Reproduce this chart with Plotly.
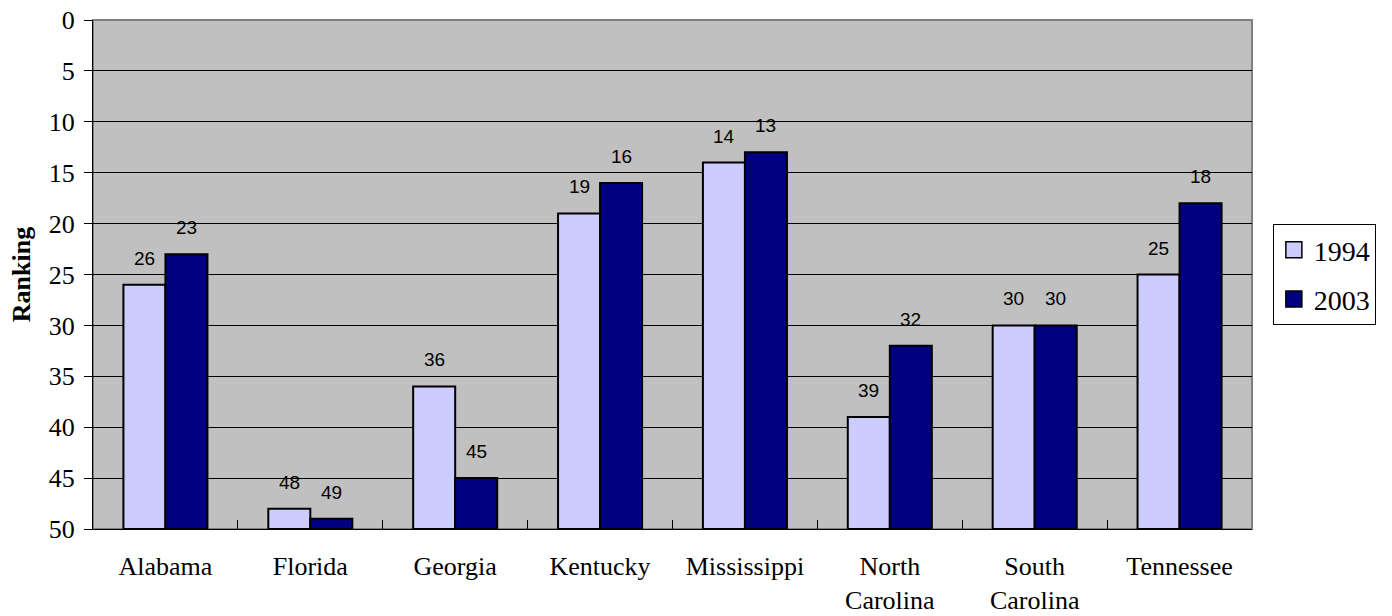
import plotly.graph_objects as go

states = ["Alabama", "Florida", "Georgia", "Kentucky", "Mississippi",
          "North<br>Carolina", "South<br>Carolina", "Tennessee"]
rank_1994 = [26, 48, 36, 19, 14, 39, 30, 25]
rank_2003 = [23, 49, 45, 16, 13, 32, 30, 18]
y_ticks = [0, 5, 10, 15, 20, 25, 30, 35, 40, 45, 50]
BASE = 50

SERIF = "Liberation Serif, Times New Roman, serif"
SANS = "Liberation Sans, Arial, sans-serif"

series = [("1994", rank_1994, "#CCCCFF", -1), ("2003", rank_2003, "#000080", 1)]

fig = go.Figure()
for name, vals, color, side in series:
    fig.add_trace(go.Bar(
        name=name, x=states, y=[v - BASE for v in vals], base=BASE,
        marker=dict(color=color, line=dict(color="black", width=2)),
        showlegend=False,
    ))
    # legend proxy with a bigger square symbol
    fig.add_trace(go.Scatter(
        name=name, x=[None], y=[None], mode="markers",
        marker=dict(symbol="square", size=20, color=color, line=dict(color="black", width=1.5)),
        legendgroup=name,
    ))

# data labels above the bar tops
for name, vals, color, side in series:
    for s, v in zip(states, vals):
        fig.add_annotation(x=s, y=v, xref="x", yref="y", text=str(v), showarrow=False,
                           xshift=side * 21, yanchor="bottom", yshift=14,
                           font=dict(family=SANS, size=19, color="black"))

fig.update_layout(
    width=1392, height=616,
    margin=dict(l=93, r=140, t=20, b=87),
    paper_bgcolor="white", plot_bgcolor="#C0C0C0",
    barmode="group", bargap=0.42, bargroupgap=0,
    font=dict(family=SERIF, color="black"),
    legend=dict(x=1.018, y=0.5, xanchor="left", yanchor="middle",
                bordercolor="black", borderwidth=1, bgcolor="white",
                font=dict(size=28, family=SERIF, color="black"), tracegroupgap=10,
                itemsizing="trace"),
    yaxis=dict(range=[50, 0], tickvals=y_ticks, showgrid=True, gridcolor="black", gridwidth=1,
               ticks="outside", ticklen=8, tickcolor="black", showline=True, linecolor="black",
               linewidth=1, tickfont=dict(size=26, family=SERIF, color="black"), zeroline=False,
               ticklabelstandoff=4, automargin=False,
               title=dict(text="<b>Ranking</b>", font=dict(size=26, family=SERIF, color="black"),
                          standoff=10)),
    xaxis=dict(showgrid=False, ticks="inside", tickson="boundaries", ticklen=9, tickcolor="black",
               showline=True, linecolor="black", linewidth=1, automargin=False,
               tickfont=dict(size=26, family=SERIF, color="black"), ticklabelstandoff=14),
)
fig.add_shape(type="rect", xref="paper", yref="paper", x0=0, y0=0, x1=1, y1=1,
              line=dict(color="#808080", width=2), layer="below")
fig.write_html("out.html")
